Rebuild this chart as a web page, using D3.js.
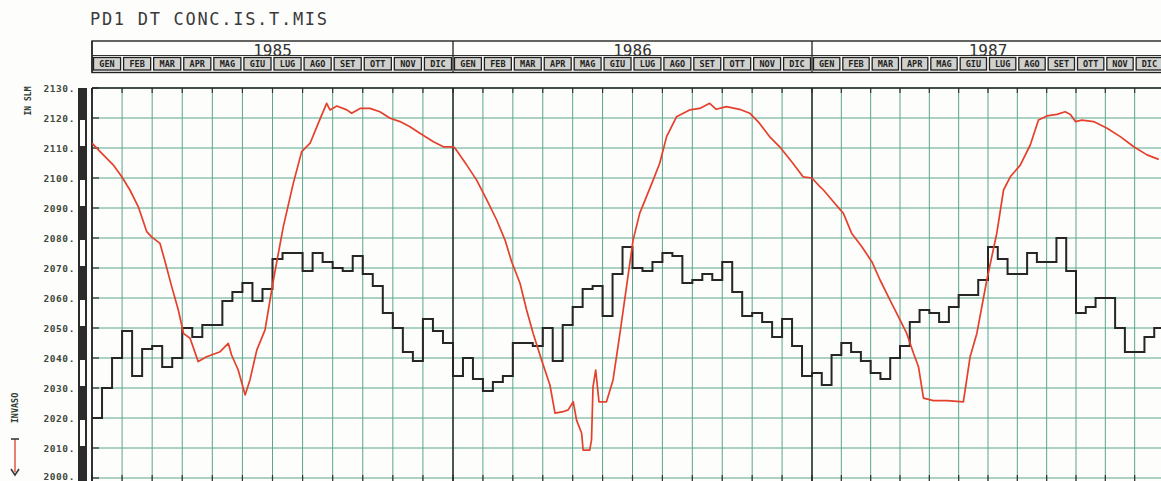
<!DOCTYPE html>
<html><head><meta charset="utf-8">
<script src="https://cdn.jsdelivr.net/npm/d3@7"></script>
<style>
html,body{margin:0;padding:0;background:#fdfdfb;}
svg{display:block;}
</style></head>
<body>
<svg id="c" width="1161" height="481"></svg>
<script>
// ---------------- DATA ----------------
const title = "PD1 DT CONC.IS.T.MIS";
const years = ["1985", "1986", "1987"];
const months = ["GEN","FEB","MAR","APR","MAG","GIU","LUG","AGO","SET","OTT","NOV","DIC"];
const yTicks = [2000,2010,2020,2030,2040,2050,2060,2070,2080,2090,2100,2110,2120,2130];
const yTickLabels = yTicks.map(v => v + ".");
const unitLabel = "IN SLM";
const seriesLabel = "INVASO";

// black step series: one value per ten-day period (36 per year)
const dek1985 = [2020,2030,2040,2049,2034,2043,2044,2037,2040,2050,2047,2051,
                 2051,2059,2062,2065,2059,2063,2073,2075,2075,2069,2075,2072,
                 2070,2069,2074,2068,2064,2055,2050,2042,2039,2053,2049,2045];
const dek1986 = [2034,2040,2033,2029,2032,2034,2045,2045,2044,2050,2039,2051,
                 2057,2063,2064,2054,2068,2077,2070,2069,2072,2075,2074,2065,
                 2066,2068,2066,2072,2062,2054,2055,2052,2047,2053,2044,2034];
const dek1987 = [2035,2031,2041,2045,2042,2039,2035,2033,2040,2044,2052,2056,
                 2055,2052,2057,2061,2061,2066,2077,2073,2068,2068,2075,2072,
                 2072,2080,2069,2055,2057,2060,2060,2050,2042,2042,2047,2050];

// red series: time in months since Jan 1985, level in m s.l.m.
const redT = [0,0.27,0.71,0.99,1.26,1.54,1.82,1.98,2.26,2.43,2.65,2.87,3.04,3.26,3.53,3.81,
  4.26,4.53,4.64,4.86,5.09,5.25,5.48,5.75,6.03,6.36,6.69,6.97,7.25,7.52,7.80,7.91,8.14,8.47,
  8.63,8.91,9.24,9.57,9.91,10.24,10.57,10.90,11.35,11.68,12.0,
  12.07,12.46,12.79,13.13,13.46,13.74,13.96,14.24,14.46,14.68,14.96,15.24,15.41,15.68,15.85,
  16.02,16.13,16.30,16.35,16.57,16.63,16.68,16.77,16.88,17.13,17.35,17.58,17.80,18.02,18.24,
  18.69,18.91,19.14,19.47,19.91,20.25,20.58,20.80,21.14,21.58,21.92,22.25,22.58,22.92,23.36,
  23.70,24.0,24.27,24.39,24.73,25.07,25.35,25.70,26.04,26.32,26.66,27.00,27.23,27.46,27.63,
  27.80,28.14,28.60,29.16,29.39,29.62,29.96,30.30,30.53,30.76,31.10,31.44,31.72,32.01,32.35,
  32.63,32.81,32.98,33.20,33.60,34.06,34.51,34.97,35.42,35.82];
const redV = [2111.6,2108.8,2104.3,2100.4,2096,2090.4,2082.1,2080.4,2078.2,2072.1,2063.8,2056,
  2048.2,2046.6,2038.8,2040.4,2042.1,2044.9,2041,2036,2027.7,2032.7,2042.7,2049.3,2066,2083.8,
  2098.2,2108.8,2111.6,2118.2,2124.9,2122.7,2124,2122.7,2121.6,2123.2,2123.2,2122.1,2119.9,
  2118.8,2117.1,2114.9,2112.1,2110.4,2110.4,
  2109.9,2104.3,2099.3,2092.7,2086,2079.3,2072.1,2064.9,2056,2048.2,2039.3,2031,2021.6,2022.1,
  2022.7,2025.4,2019.3,2014.9,2009.3,2009.3,2012.7,2030.4,2036,2025.4,2025.4,2032.7,2048.2,
  2063.8,2079.3,2088.2,2099.3,2104.9,2113.8,2120.4,2122.7,2123.2,2124.9,2122.9,2123.8,2122.9,
  2121.6,2118.2,2113.8,2110.4,2104.9,2100.4,2100,2097.1,2096,2092.1,2088.2,2081.6,2077.1,
  2072.1,2066,2059.3,2052.7,2048.2,2041.6,2037.1,2026.6,2025.8,2025.8,2025.4,2040.4,2048.2,
  2066,2081.6,2096,2100.4,2104.3,2111,2119.3,2120.7,2121.2,2122.1,2121.2,2118.8,2119.3,
  2118.8,2116.6,2113.8,2110.4,2107.7,2106.2];

// ---------------- DRAW ----------------
const svg = d3.select("#c");
const x = d3.scaleLinear().domain([0, 12, 24, 36]).range([92, 453, 812, 1164]);
const y = d3.scaleLinear().domain([2000, 2130]).range([478, 88]);
const plotTop = y(2130), plotBot = 481;
const gridCol = "#5aa68e";
const mono = "'DejaVu Sans Mono', 'Liberation Mono', monospace";

// title
svg.append("text").attr("x", 90).attr("y", 25)
  .attr("font-family", mono).attr("font-size", 17).attr("letter-spacing", 1.7)
  .attr("fill", "#3a3a3a").text(title);

// header box
const hTop = 41, hMid = 55.5, hBot = 72.5;
svg.append("rect").attr("x", x(0)).attr("y", hTop).attr("width", 1175 - x(0)).attr("height", hBot - hTop)
  .attr("fill", "#fdfdfb").attr("stroke", "#222").attr("stroke-width", 1.4);
svg.append("line").attr("x1", x(0)).attr("x2", 1175).attr("y1", hMid).attr("y2", hMid)
  .attr("stroke", "#333").attr("stroke-width", 1);
years.forEach((yr, i) => {
  svg.append("line").attr("x1", x(12 * i)).attr("x2", x(12 * i)).attr("y1", hTop).attr("y2", hBot)
    .attr("stroke", "#222").attr("stroke-width", 1.3);
  svg.append("text").attr("x", x(12 * i + 6)).attr("y", 55.5).attr("text-anchor", "middle")
    .attr("font-family", mono).attr("font-size", 16).attr("fill", "#333").text(yr);
  months.forEach((m, j) => {
    const a = x(12 * i + j), b = x(12 * i + j + 1);
    svg.append("rect").attr("x", a + 1.5).attr("y", 57.5).attr("width", b - a - 3).attr("height", 12.5)
      .attr("fill", "#d0d0cc").attr("stroke", "#1e1e1e").attr("stroke-width", 1.3);
    svg.append("text").attr("x", (a + b) / 2).attr("y", 67.3).attr("text-anchor", "middle")
      .attr("font-family", mono).attr("font-weight", "bold").attr("font-size", 8.5)
      .attr("fill", "#222").text(m);
  });
});

// grid
const g = svg.append("g");
yTicks.forEach(v => {
  g.append("line").attr("x1", x(0)).attr("x2", 1161).attr("y1", y(v)).attr("y2", y(v))
    .attr("stroke", gridCol).attr("stroke-width", 1);
  g.append("line").attr("x1", x(0)).attr("x2", x(0) + 7).attr("y1", y(v)).attr("y2", y(v))
    .attr("stroke", "#333").attr("stroke-width", 1.2);
});
d3.range(0, 37).forEach(m => {
  g.append("line").attr("x1", x(m)).attr("x2", x(m)).attr("y1", plotTop).attr("y2", plotBot)
    .attr("stroke", gridCol).attr("stroke-width", 1);
  g.append("line").attr("x1", x(m)).attr("x2", x(m)).attr("y1", plotTop).attr("y2", plotTop + 5)
    .attr("stroke", "#333").attr("stroke-width", 1.2);
  g.append("line").attr("x1", x(m)).attr("x2", x(m)).attr("y1", plotBot - 6).attr("y2", plotBot)
    .attr("stroke", "#333").attr("stroke-width", 1.2);
});
// frame and year separators
g.append("line").attr("x1", x(0)).attr("x2", 1161).attr("y1", plotTop).attr("y2", plotTop)
  .attr("stroke", "#222").attr("stroke-width", 1.5);
[0, 12, 24].forEach(m => {
  g.append("line").attr("x1", x(m)).attr("x2", x(m)).attr("y1", plotTop).attr("y2", plotBot)
    .attr("stroke", "#222").attr("stroke-width", m === 0 ? 1.8 : 1.4);
});

// y axis scale bar
const barX = 78, barW = 9;
svg.append("rect").attr("x", barX).attr("y", y(2130)).attr("width", barW).attr("height", plotBot - y(2130))
  .attr("fill", "#2b2b2b");
yTicks.slice(0, -1).forEach((v, i) => {
  if ((yTicks.length - 2 - i) % 2 === 1) {
    svg.append("rect").attr("x", barX + 2).attr("y", y(v + 10) + 2).attr("width", barW - 4)
      .attr("height", y(v) - y(v + 10) - 4).attr("fill", "#fdfdfb");
  }
});
// y labels
yTicks.forEach((v, i) => {
  svg.append("text").attr("x", 75).attr("y", Math.min(y(v) + 3.5, 479.5)).attr("text-anchor", "end")
    .attr("font-family", mono).attr("font-weight", "bold").attr("font-size", 9.5)
    .attr("letter-spacing", 0.6).attr("fill", "#3d4a3d").text(yTickLabels[i]);
});
// rotated labels
svg.append("text").attr("transform", "translate(31,101) rotate(-90)").attr("text-anchor", "middle")
  .attr("font-family", mono).attr("font-weight", "bold").attr("font-size", 8)
  .attr("fill", "#2f3a2f").text(unitLabel);
svg.append("text").attr("transform", "translate(18,408) rotate(-90)").attr("text-anchor", "middle")
  .attr("font-family", mono).attr("font-weight", "bold").attr("font-size", 8.5)
  .attr("fill", "#2f3a2f").text(seriesLabel);
// legend I-bar symbol
const lx = 15;
svg.append("line").attr("x1", lx).attr("x2", lx).attr("y1", 439).attr("y2", 472)
  .attr("stroke", "#e04a33").attr("stroke-width", 1.4);
svg.append("line").attr("x1", lx - 4).attr("x2", lx + 4).attr("y1", 439).attr("y2", 439)
  .attr("stroke", "#3a3a3a").attr("stroke-width", 1.6);
svg.append("path").attr("d", `M${lx - 4},${469} L${lx},${475} L${lx + 4},${469}`)
  .attr("fill", "none").attr("stroke", "#3a3a3a").attr("stroke-width", 1.6);

// clip
svg.append("clipPath").attr("id", "pc").append("rect")
  .attr("x", x(0)).attr("y", plotTop - 5).attr("width", 1161 - x(0)).attr("height", plotBot - plotTop + 5);

// black step line
const dek = dek1985.concat(dek1986, dek1987);
const stepData = dek.map((v, i) => ({ t: i / 3, v }));
stepData.push({ t: 36, v: dek[dek.length - 1] });
svg.append("path").datum(stepData).attr("clip-path", "url(#pc)")
  .attr("d", d3.line().x(d => x(d.t)).y(d => y(d.v)).curve(d3.curveStepAfter))
  .attr("fill", "none").attr("stroke", "#262626").attr("stroke-width", 2);

// red line
const redData = redT.map((t, i) => ({ t, v: redV[i] }));
svg.append("path").datum(redData).attr("clip-path", "url(#pc)")
  .attr("d", d3.line().x(d => x(d.t)).y(d => y(d.v)))
  .attr("fill", "none").attr("stroke", "#e4402c").attr("stroke-width", 1.7)
  .attr("stroke-linejoin", "round");
</script>
</body></html>
